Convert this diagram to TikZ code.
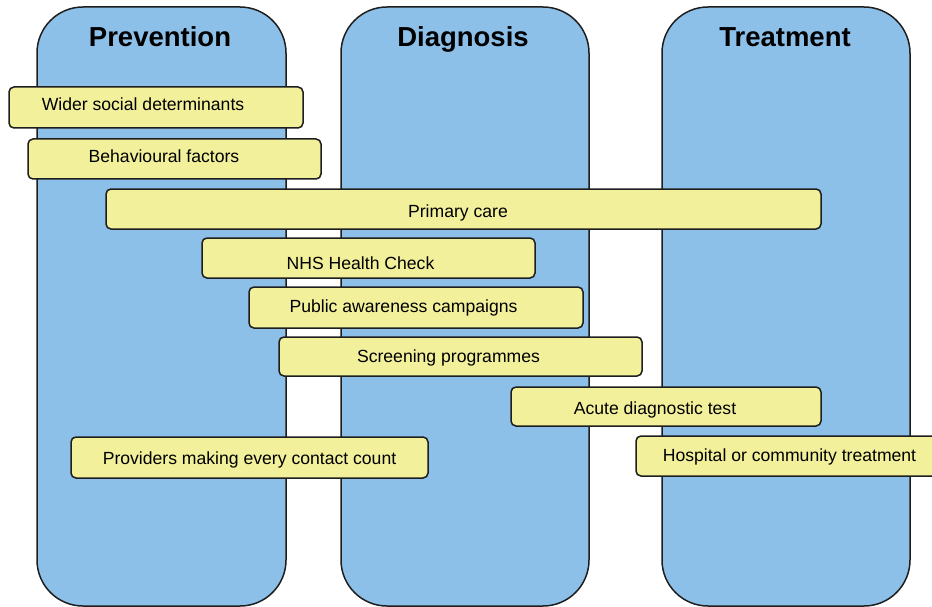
\documentclass[tikz,border=0pt]{standalone}
\usepackage{fontspec}
\setmainfont{Liberation Sans}
\definecolor{colblue}{RGB}{141,192,232}
\definecolor{baryellow}{RGB}{243,240,155}
\definecolor{edgegray}{RGB}{30,30,30}
\begin{document}
\begin{tikzpicture}[x=1pt, y=-1pt, line join=round, line cap=round,
	column/.style={draw=edgegray, line width=1.5pt, fill=colblue, rounded corners=46pt},
	bar/.style={draw=edgegray, line width=1.5pt, fill=baryellow, rounded corners=5pt},
	head/.style={anchor=base, inner sep=0pt, font=\fontsize{27.5}{30}\selectfont\bfseries},
	bartext/.style={anchor=base, inner sep=0pt, font=\fontsize{17.6}{20}\selectfont}]
	\useasboundingbox (0,0) rectangle (932,607);
	% the three stages
	\draw[column] (37,7) rectangle (286,606);
	\draw[column] (341,7) rectangle (589,606);
	\draw[column] (662,7) rectangle (910,606);
	\node[head] (prevention) at (160,47) {Prevention};
	\node[head] (diagnosis) at (463,47) {Diagnosis};
	\node[head] (treatment) at (785,47) {Treatment};
	% bars spanning the stages
	\draw[bar] (9,87) rectangle (303,128);
	\node[bartext] (wider) at (143,111) {Wider social determinants};
	\draw[bar] (28,139) rectangle (321,179);
	\node[bartext] (behaviour) at (164,163) {Behavioural factors};
	\draw[bar] (106,189) rectangle (821,229);
	\node[bartext] (primary) at (458,217) {Primary care};
	\draw[bar] (202,238) rectangle (535,278);
	\node[bartext] (nhscheck) at (360.5,269) {NHS Health Check};
	\draw[bar] (249,287) rectangle (583,328);
	\node[bartext] (awareness) at (403.5,312) {Public awareness campaigns};
	\draw[bar] (279,337) rectangle (642,376);
	\node[bartext] (screening) at (448.5,362) {Screening programmes};
	\draw[bar] (511,387) rectangle (821,426);
	\node[bartext] (acute) at (655,414) {Acute diagnostic test};
	\draw[bar] (71,437) rectangle (428,478);
	\node[bartext] (providers) at (249.5,464) {Providers making every contact count};
	\draw[bar] (636,436) rectangle (945,476);
	\node[bartext] (hospital) at (789.5,461) {Hospital or community treatment};
\end{tikzpicture}
\end{document}
